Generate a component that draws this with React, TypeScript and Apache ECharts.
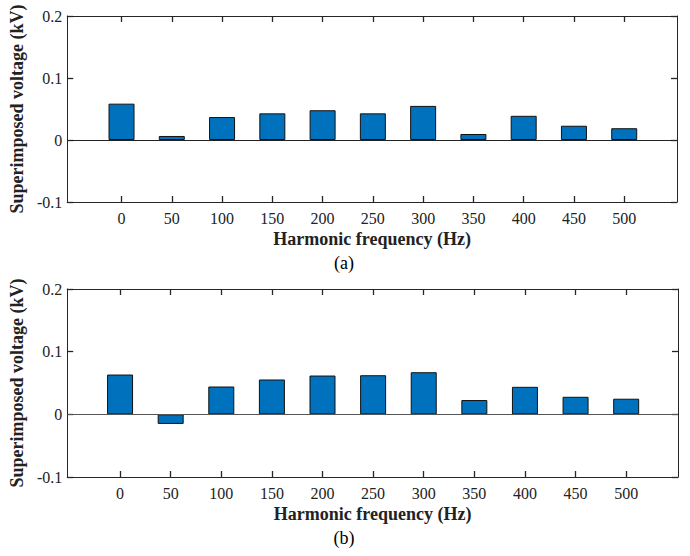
import React, { useEffect, useRef } from "react";
import * as echarts from "echarts";

const freqs = [0, 50, 100, 150, 200, 250, 300, 350, 400, 450, 500];
const valuesA = [0.0586, 0.0065, 0.037, 0.043, 0.048, 0.043, 0.055, 0.0097, 0.039, 0.023, 0.019];
const valuesB = [0.0635, -0.0153, 0.0444, 0.0556, 0.0619, 0.0624, 0.0672, 0.0228, 0.0439, 0.028, 0.0249];
const yTicks = { min: -0.1, max: 0.2, interval: 0.1 };
const xTitle = "Harmonic frequency (Hz)";
const yTitle = "Superimposed voltage (kV)";
const panelLabels = ["(a)", "(b)"];

const FONT = "Liberation Serif";
const AXIS_COLOR = "#262626";

export default function App() {
  const ref = useRef<HTMLDivElement>(null);
  useEffect(() => {
    if (!ref.current) return;
    const chart = echarts.init(ref.current, undefined, { renderer: "svg" });

    const grids = [
      { left: 62, right: 13, top: 16, height: 186 },
      { left: 62, right: 12, top: 289, height: 188 },
    ];
    const xRanges = [
      { min: -54, max: 552.5 },
      { min: -52.2, max: 551.2 },
    ];

    const mkTick = (custom: boolean) => ({
      show: true,
      inside: true,
      length: 6,
      ...(custom ? { customValues: freqs } : {}),
      lineStyle: { color: AXIS_COLOR, width: 1.3 },
    });
    const mkLine = () => ({ show: true, onZero: false, lineStyle: { color: AXIS_COLOR, width: 1 } });

    const xAxes: any[] = [];
    const yAxes: any[] = [];
    const series: any[] = [];
    [valuesA, valuesB].forEach((vals, g) => {
      xAxes.push({
        type: "value",
        gridIndex: g,
        position: "bottom",
        min: xRanges[g].min,
        max: xRanges[g].max,
        axisLine: mkLine(),
        splitLine: { show: false },
        axisTick: mkTick(true),
        axisLabel: { customValues: freqs, margin: 8, color: "#222", fontFamily: FONT, fontSize: 16 },
        name: xTitle,
        nameLocation: "middle",
        nameGap: 28,
        nameTextStyle: { fontFamily: FONT, fontSize: 18, fontWeight: "bold", color: "#222" },
      });
      xAxes.push({
        type: "value",
        gridIndex: g,
        position: "top",
        min: xRanges[g].min,
        max: xRanges[g].max,
        axisLine: mkLine(),
        splitLine: { show: false },
        axisTick: mkTick(true),
        axisLabel: { show: false },
      });
      yAxes.push({
        type: "value",
        gridIndex: g,
        position: "left",
        min: yTicks.min,
        max: yTicks.max,
        interval: yTicks.interval,
        axisLine: mkLine(),
        splitLine: { show: false },
        axisTick: mkTick(false),
        axisLabel: { margin: 5, color: "#222", fontFamily: FONT, fontSize: 16 },
        name: yTitle,
        nameLocation: "middle",
        nameGap: 33,
        nameRotate: 90,
        nameTextStyle: { fontFamily: FONT, fontSize: 18, fontWeight: "bold", color: "#222" },
      });
      yAxes.push({
        type: "value",
        gridIndex: g,
        position: "right",
        min: yTicks.min,
        max: yTicks.max,
        interval: yTicks.interval,
        axisLine: mkLine(),
        splitLine: { show: false },
        axisTick: mkTick(false),
        axisLabel: { show: false },
      });
      series.push({
        type: "bar",
        xAxisIndex: g * 2,
        yAxisIndex: g * 2,
        barWidth: 26,
        data: freqs.map((f, i) => [f, vals[i]]),
        itemStyle: { color: "#0072BD", borderColor: "#111", borderWidth: 1 },
        markLine: {
          silent: true,
          symbol: ["none", "none"],
          label: { show: false },
          lineStyle: { color: g === 0 ? "#222" : "#555", width: 1, type: "solid" },
          data: [{ yAxis: 0 }],
        },
      });
    });

    chart.setOption({
      animation: false,
      backgroundColor: "#fff",
      textStyle: { fontFamily: FONT },
      grid: grids.map((gr) => ({ ...gr, show: false })),
      xAxis: xAxes,
      yAxis: yAxes,
      series,
      graphic: [
        { type: "text", x: 344, y: 263, style: { text: panelLabels[0], fontFamily: FONT, fontSize: 18, fill: "#000", align: "center", verticalAlign: "middle" } },
        { type: "text", x: 344, y: 538, style: { text: panelLabels[1], fontFamily: FONT, fontSize: 18, fill: "#000", align: "center", verticalAlign: "middle" } },
      ],
    });
    return () => chart.dispose();
  }, []);
  return <div ref={ref} style={{ width: 690, height: 556, position: "absolute", left: 0, top: 0 }} />;
}
